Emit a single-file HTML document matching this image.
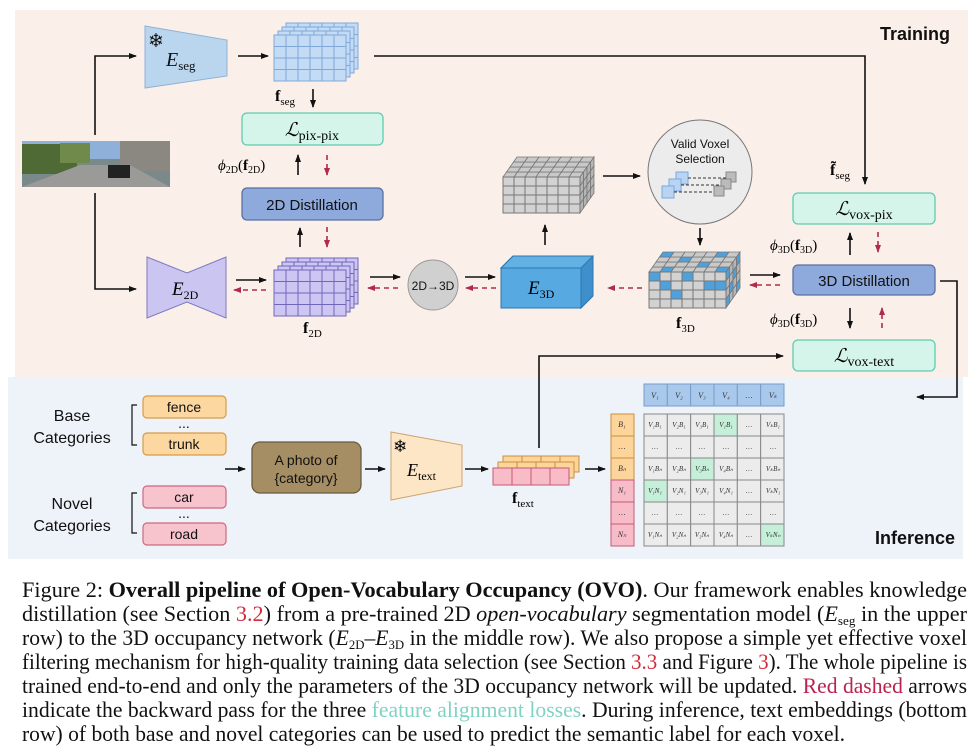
<!DOCTYPE html>
<html><head><meta charset="utf-8"><style>
html,body{margin:0;padding:0;background:#fff}
svg{display:block}
.s{font-family:"Liberation Sans",sans-serif}
.m{font-family:"Liberation Serif",serif}
</style></head><body>
<svg id="f" width="979" height="748" viewBox="0 0 979 748" xmlns="http://www.w3.org/2000/svg">
<defs>
<marker id="a" markerWidth="8" markerHeight="8" refX="7" refY="4" orient="auto" markerUnits="userSpaceOnUse"><path d="M0,1 L8,4 L0,7 Z" fill="#111"/></marker>
<marker id="r" markerWidth="8" markerHeight="8" refX="7" refY="4" orient="auto" markerUnits="userSpaceOnUse"><path d="M0,1 L8,4 L0,7 Z" fill="#b02a4c"/></marker>
</defs>
<rect x="15" y="10" width="953" height="367" fill="#fbf0e9"/>
<rect x="8" y="377" width="955" height="182" fill="#eef2f9"/>
<text x="950" y="40" text-anchor="end" class="s" font-weight="bold" font-size="18" fill="#111">Training</text>
<text x="955" y="544" text-anchor="end" class="s" font-weight="bold" font-size="18" fill="#111">Inference</text>

<!-- image -->
<rect x="22" y="141" width="148" height="46" fill="#7a8a8a"/>
<rect x="22" y="141" width="148" height="18" fill="#8fb0d8"/>
<rect x="22" y="144" width="55" height="30" fill="#4f6a35"/>
<rect x="60" y="143" width="30" height="20" fill="#6f8a4a"/>
<rect x="120" y="141" width="50" height="30" fill="#8a8880"/>
<polygon points="22,187 170,187 130,165 80,165" fill="#9a9a98"/>
<rect x="108" y="165" width="22" height="13" fill="#222"/>

<g stroke="#111" stroke-width="1.6" fill="none">
<polyline points="95,135 95,56 136,56" marker-end="url(#a)"/>
<polyline points="95,193 95,289 136,289" marker-end="url(#a)"/>
<line x1="238" y1="56" x2="268" y2="56" marker-end="url(#a)"/>
<polyline points="374,56 865,56 865,184" marker-end="url(#a)"/>
<line x1="313" y1="89" x2="313" y2="107" marker-end="url(#a)"/>
<line x1="298" y1="175" x2="298" y2="155" marker-end="url(#a)"/>
<line x1="300" y1="247" x2="300" y2="228" marker-end="url(#a)"/>
<line x1="236" y1="280" x2="266" y2="280" marker-end="url(#a)"/>
<line x1="370" y1="277" x2="400" y2="277" marker-end="url(#a)"/>
<line x1="465" y1="277" x2="495" y2="277" marker-end="url(#a)"/>
<line x1="545" y1="245" x2="545" y2="225" marker-end="url(#a)"/>
<line x1="603" y1="176" x2="640" y2="176" marker-end="url(#a)"/>
<line x1="700" y1="228" x2="700" y2="245" marker-end="url(#a)"/>
<line x1="750" y1="275" x2="780" y2="275" marker-end="url(#a)"/>
<line x1="850" y1="255" x2="850" y2="233" marker-end="url(#a)"/>
<line x1="850" y1="308" x2="850" y2="328" marker-end="url(#a)"/>
<polyline points="940,281 957,281 957,397 917,397" marker-end="url(#a)"/>
<polyline points="539,448 539,356 783,356" marker-end="url(#a)"/>
<line x1="225" y1="469" x2="245" y2="469" marker-end="url(#a)"/>
<line x1="365" y1="469" x2="385" y2="469" marker-end="url(#a)"/>
<line x1="465" y1="469" x2="488" y2="469" marker-end="url(#a)"/>
<line x1="585" y1="469" x2="605" y2="469" marker-end="url(#a)"/>
</g>
<g stroke="#b02a4c" stroke-width="1.6" fill="none" stroke-dasharray="5,4">
<line x1="327" y1="155" x2="327" y2="175" marker-end="url(#r)"/>
<line x1="327" y1="227" x2="327" y2="247" marker-end="url(#r)"/>
<line x1="266" y1="290" x2="234" y2="290" marker-end="url(#r)"/>
<line x1="398" y1="288" x2="368" y2="288" marker-end="url(#r)"/>
<line x1="496" y1="288" x2="466" y2="288" marker-end="url(#r)"/>
<line x1="642" y1="288" x2="608" y2="288" marker-end="url(#r)"/>
<line x1="780" y1="285" x2="750" y2="285" marker-end="url(#r)"/>
<line x1="878" y1="232" x2="878" y2="252" marker-end="url(#r)"/>
<line x1="882" y1="328" x2="882" y2="308" marker-end="url(#r)"/>
</g>

<!-- Eseg -->
<polygon points="145,26 227,40 227,76 145,88" fill="#bad6ef" stroke="#8fb2d6"/>
<text x="148" y="47" font-size="19" fill="#111">❄</text>
<text x="166" y="66" class="m" font-style="italic" font-size="20" fill="#111">E<tspan font-style="normal" font-size="13" dy="4">seg</tspan></text>
<g id="sseg"></g>
<text x="275" y="101" class="m" font-weight="bold" font-size="16">f<tspan font-weight="normal" font-size="11" dy="4">seg</tspan></text>

<rect x="242" y="113" width="141" height="32" rx="5" fill="#d5f5ea" stroke="#5fcbb0" stroke-width="1.3"/>
<text x="312" y="136" text-anchor="middle" class="m" font-size="19"><tspan font-style="italic" font-family="DejaVu Serif">ℒ</tspan><tspan font-size="14" dy="4">pix-pix</tspan></text>
<text x="218" y="170" class="m" font-size="15"><tspan font-style="italic">ϕ</tspan><tspan font-size="10" dy="3">2D</tspan><tspan dy="-3">(</tspan><tspan font-weight="bold">f</tspan><tspan font-size="10" dy="3">2D</tspan><tspan dy="-3">)</tspan></text>
<rect x="242" y="188" width="141" height="32" rx="5" fill="#8ea9dc" stroke="#5a70a3" stroke-width="1.3"/>
<text x="312" y="210" text-anchor="middle" class="s" font-size="15" fill="#111">2D Distillation</text>

<!-- E2D -->
<polygon points="147,257 187,273 226,257 226,318 187,302 147,318" fill="#cbc5f1" stroke="#7f79bf"/>
<text x="172" y="295" class="m" font-style="italic" font-size="19">E<tspan font-style="normal" font-size="12" dy="4">2D</tspan></text>
<g id="s2d"></g>
<text x="303" y="333" class="m" font-weight="bold" font-size="16">f<tspan font-weight="normal" font-size="11" dy="4">2D</tspan></text>

<circle cx="433" cy="285" r="25" fill="#d0d0d0" stroke="#999"/>
<text x="433" y="290" text-anchor="middle" class="s" font-size="12" fill="#111">2D→3D</text>

<!-- E3D -->
<polygon points="501,268 513,256 593,256 593,296 581,308 581,268" fill="#3f8fcc" stroke="#2c76ad"/>
<polygon points="501,268 513,256 593,256 581,268" fill="#63b1e4" stroke="#2c76ad"/>
<rect x="501" y="268" width="80" height="40" fill="#56a9e1" stroke="#2c76ad"/>
<text x="528" y="294" class="m" font-style="italic" font-size="19">E<tspan font-style="normal" font-size="12" dy="4">3D</tspan></text>

<g id="cube1"></g>
<circle cx="700" cy="172" r="52" fill="#ececec" stroke="#777"/>
<text x="700" y="148" text-anchor="middle" class="s" font-size="12" fill="#111">Valid Voxel</text>
<text x="700" y="163" text-anchor="middle" class="s" font-size="12" fill="#111">Selection</text>
<g stroke="#7aa9dc" fill="#b9d3f2"><rect x="676" y="172" width="12" height="12"/><rect x="669" y="179" width="12" height="12"/><rect x="662" y="186" width="12" height="12"/></g>
<g stroke="#888" fill="#bbb"><rect x="726" y="172" width="10" height="10"/><rect x="721" y="179" width="10" height="10"/><rect x="714" y="186" width="10" height="10"/></g>
<g stroke="#333" stroke-dasharray="3,2"><line x1="688" y1="178" x2="726" y2="178"/><line x1="681" y1="185" x2="721" y2="185"/><line x1="674" y1="192" x2="714" y2="192"/></g>
<g id="cube2"></g>
<text x="676" y="328" class="m" font-weight="bold" font-size="16">f<tspan font-weight="normal" font-size="11" dy="4">3D</tspan></text>

<text x="830" y="175" class="m" font-weight="bold" font-size="16">f̃<tspan font-weight="normal" font-size="11" dy="4">seg</tspan></text>
<rect x="793" y="193" width="142" height="31" rx="5" fill="#d5f5ea" stroke="#5fcbb0" stroke-width="1.3"/>
<text x="864" y="215" text-anchor="middle" class="m" font-size="19"><tspan font-style="italic" font-family="DejaVu Serif">ℒ</tspan><tspan font-size="14" dy="4">vox-pix</tspan></text>
<text x="770" y="250" class="m" font-size="15"><tspan font-style="italic">ϕ</tspan><tspan font-size="10" dy="3">3D</tspan><tspan dy="-3">(</tspan><tspan font-weight="bold">f</tspan><tspan font-size="10" dy="3">3D</tspan><tspan dy="-3">)</tspan></text>
<rect x="793" y="265" width="142" height="30" rx="5" fill="#8ea9dc" stroke="#5a70a3" stroke-width="1.3"/>
<text x="864" y="286" text-anchor="middle" class="s" font-size="15" fill="#111">3D Distillation</text>
<text x="770" y="324" class="m" font-size="15"><tspan font-style="italic">ϕ</tspan><tspan font-size="10" dy="3">3D</tspan><tspan dy="-3">(</tspan><tspan font-weight="bold">f</tspan><tspan font-size="10" dy="3">3D</tspan><tspan dy="-3">)</tspan></text>
<rect x="793" y="340" width="142" height="31" rx="5" fill="#d5f5ea" stroke="#5fcbb0" stroke-width="1.3"/>
<text x="864" y="362" text-anchor="middle" class="m" font-size="19"><tspan font-style="italic" font-family="DejaVu Serif">ℒ</tspan><tspan font-size="14" dy="4">vox-text</tspan></text>

<!-- inference -->
<g class="s" font-size="16" fill="#111" text-anchor="middle">
<text x="72" y="421">Base</text><text x="72" y="443">Categories</text>
<text x="72" y="509">Novel</text><text x="72" y="531">Categories</text>
</g>
<path d="M137,405 h-5 v40 h5 M137,493 h-5 v40 h5" stroke="#111" fill="none" stroke-width="1.2"/>
<g stroke="#d79b47" fill="#fdd7a0" stroke-width="1.2"><rect x="143" y="396" width="83" height="22" rx="4"/><rect x="143" y="433" width="83" height="22" rx="4"/></g>
<g stroke="#cd6a80" fill="#f7c3cd" stroke-width="1.2"><rect x="143" y="486" width="83" height="22" rx="4"/><rect x="143" y="523" width="83" height="22" rx="4"/></g>
<g class="s" font-size="14" fill="#111" text-anchor="middle">
<text x="184" y="412">fence</text><text x="184" y="428">...</text><text x="184" y="449">trunk</text>
<text x="184" y="502">car</text><text x="184" y="518">...</text><text x="184" y="539">road</text>
</g>
<rect x="252" y="442" width="109" height="51" rx="8" fill="#a68e64" stroke="#6b5a3c" stroke-width="1.3"/>
<text x="306" y="465" text-anchor="middle" class="s" font-size="14" fill="#111">A photo of</text>
<text x="306" y="483" text-anchor="middle" class="s" font-size="14" fill="#111">{category}</text>
<polygon points="391,432 462,445 462,486 391,500" fill="#fde6c6" stroke="#cfa36a"/>
<text x="393" y="452" font-size="17">❄</text>
<text x="407" y="476" class="m" font-style="italic" font-size="18">E<tspan font-style="normal" font-size="12" dy="4">text</tspan></text>
<g id="ftext"></g>
<text x="512" y="503" class="m" font-weight="bold" font-size="16">f<tspan font-weight="normal" font-size="11" dy="4">text</tspan></text>
<g id="mat"></g>
<g class="m" font-style="italic" font-size="8" fill="#333" text-anchor="middle">
<text x="622" y="427">B₁</text><text x="622" y="449">…</text><text x="622" y="471">Bₙ</text>
<text x="622" y="493">N₁</text><text x="622" y="515">…</text><text x="622" y="537">Nₙ</text>
<text x="655" y="398">V₁</text><text x="679" y="398">V₂</text><text x="702" y="398">V₃</text><text x="726" y="398">V₄</text><text x="749" y="398">…</text><text x="773" y="398">Vₖ</text>
</g>
<g class="m" font-style="italic" font-size="7" fill="#333" text-anchor="middle">
<text x="655" y="427">V₁B₁</text><text x="679" y="427">V₂B₁</text><text x="702" y="427">V₃B₁</text><text x="726" y="427">V₁B₁</text><text x="749" y="427">…</text><text x="773" y="427">VₖB₁</text>
<text x="655" y="449">…</text><text x="679" y="449">…</text><text x="702" y="449">…</text><text x="726" y="449">…</text><text x="749" y="449">…</text><text x="773" y="449">…</text>
<text x="655" y="471">V₁Bₙ</text><text x="679" y="471">V₂Bₙ</text><text x="702" y="471">V₃Bₙ</text><text x="726" y="471">V₄Bₙ</text><text x="749" y="471">…</text><text x="773" y="471">VₖBₙ</text>
<text x="655" y="493">V₁N₁</text><text x="679" y="493">V₂N₁</text><text x="702" y="493">V₃N₁</text><text x="726" y="493">V₄N₁</text><text x="749" y="493">…</text><text x="773" y="493">VₖN₁</text>
<text x="655" y="515">…</text><text x="679" y="515">…</text><text x="702" y="515">…</text><text x="726" y="515">…</text><text x="749" y="515">…</text><text x="773" y="515">…</text>
<text x="655" y="537">V₁Nₙ</text><text x="679" y="537">V₂Nₙ</text><text x="702" y="537">V₃Nₙ</text><text x="726" y="537">V₄Nₙ</text><text x="749" y="537">…</text><text x="773" y="537">VₖNₙ</text>
</g>

<!-- caption -->
<g class="m" font-size="22" fill="#111">
<text x="22" y="597" textLength="945" lengthAdjust="spacingAndGlyphs">Figure 2: <tspan font-weight="bold">Overall pipeline of Open-Vocabulary Occupancy (OVO)</tspan>. Our framework enables knowledge</text>
<text x="22" y="621" textLength="945" lengthAdjust="spacingAndGlyphs">distillation (see Section <tspan fill="#d42b3a">3.2</tspan>) from a pre-trained 2D <tspan font-style="italic">open-vocabulary</tspan> segmentation model (<tspan font-style="italic">E</tspan><tspan font-size="13" dy="4">seg</tspan><tspan dy="-4"> in the upper</tspan></text>
<text x="22" y="645" textLength="945" lengthAdjust="spacingAndGlyphs">row) to the 3D occupancy network (<tspan font-style="italic">E</tspan><tspan font-size="13" dy="4">2D</tspan><tspan dy="-4">–</tspan><tspan font-style="italic">E</tspan><tspan font-size="13" dy="4">3D</tspan><tspan dy="-4"> in the middle row). We also propose a simple yet effective voxel</tspan></text>
<text x="22" y="669" textLength="945" lengthAdjust="spacingAndGlyphs">filtering mechanism for high-quality training data selection (see Section <tspan fill="#d42b3a">3.3</tspan> and Figure <tspan fill="#d42b3a">3</tspan>). The whole pipeline is</text>
<text x="22" y="693" textLength="945" lengthAdjust="spacingAndGlyphs">trained end-to-end and only the parameters of the 3D occupancy network will be updated. <tspan fill="#b8234f">Red dashed</tspan> arrows</text>
<text x="22" y="717" textLength="945" lengthAdjust="spacingAndGlyphs">indicate the backward pass for the three <tspan fill="#7fd3c2">feature alignment losses</tspan>. During inference, text embeddings (bottom</text>
<text x="22" y="741" textLength="823" lengthAdjust="spacingAndGlyphs">row) of both base and novel categories can be used to predict the semantic label for each voxel.</text>
</g>
</svg>
<script>
var NS="http://www.w3.org/2000/svg";
function el(p,t,a){var e=document.createElementNS(NS,t);for(var k in a)e.setAttribute(k,a[k]);p.appendChild(e);return e;}
function grid(p,x,y,w,h,c,r,fill,st,hl){for(var i=0;i<r;i++)for(var j=0;j<c;j++){var f=fill;if(hl&&hl[i+','+j])f=hl[i+','+j];el(p,'rect',{x:x+j*w/c,y:y+i*h/r,width:w/c,height:h/r,fill:f,stroke:st,'stroke-width':1});}}
function stack(id,x,y,fill,st){var g=document.getElementById(id);for(var k=3;k>=0;k--)grid(g,x+k*4,y-k*4,72,46,6,4,fill,st);}
stack('sseg',274,35,'#c3dbf4','#7fa8d8');
stack('s2d',274,270,'#cdc6f3','#6f67b8');
function cube(id,x,y,blue){var g=document.getElementById(id);var w=77,h=36,dx=14,dy=20;
 var top=el(g,'g',{});for(var i=0;i<4;i++)for(var j=0;j<7;j++){var x0=x+j*w/7+i*dx/4,y0=y-i*dy/4;
  el(top,'polygon',{points:[x0+','+y0,(x0+w/7)+','+y0,(x0+w/7+dx/4)+','+(y0-dy/4),(x0+dx/4)+','+(y0-dy/4)].join(' '),fill:(blue&&(i*7+j)%5==1)?'#4ea1dc':'#c9c9c9',stroke:'#777','stroke-width':0.8});}
 for(var i=0;i<4;i++)for(var j=0;j<4;j++){var x0=x+w+i*dx/4,y0=y+j*h/4-i*dy/4;
  el(g,'polygon',{points:[x0+','+y0,(x0+dx/4)+','+(y0-dy/4),(x0+dx/4)+','+(y0-dy/4+h/4),x0+','+(y0+h/4)].join(' '),fill:(blue&&(i+j)%3==0)?'#4ea1dc':'#b5b5b5',stroke:'#777','stroke-width':0.8});}
 var hl=blue?{'0,0':'#4ea1dc','0,3':'#4ea1dc','1,1':'#4ea1dc','1,5':'#4ea1dc','1,6':'#4ea1dc','2,2':'#4ea1dc'}:null;
 grid(g,x,y,w,h,7,4,'#d2d2d2','#777',hl);}
cube('cube1',503,177,false);
cube('cube2',649,272,true);
var ft=document.getElementById('ftext');
for(var k=2;k>=1;k--)grid(ft,493+k*5,468-k*6,76,16,4,1,'#fdd49a','#c8913f');
grid(ft,493,468,76,17,4,1,'#f7bcc8','#c45a74');
var m=document.getElementById('mat');
grid(m,611,414,23,66,1,3,'#fdd49a','#c8913f');
grid(m,611,480,23,66,1,3,'#f7bcc8','#c45a74');
grid(m,644,384,140,22,6,1,'#a9c9ec','#7a9cc6');
var G='#c5efd9';
grid(m,644,414,140,132,6,6,'#ececec','#888',{'0,3':G,'2,2':G,'3,0':G,'5,5':G});
</script>
</body></html>
